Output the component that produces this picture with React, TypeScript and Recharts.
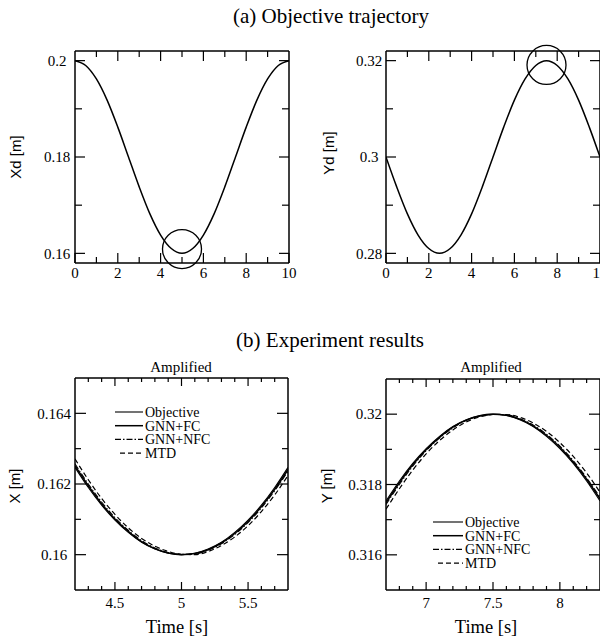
import React from 'react';
import { LineChart, Line, XAxis, YAxis, ReferenceDot } from 'recharts';

const SERIF = '"Liberation Serif", "Times New Roman", serif';
const SANS = '"Liberation Sans", Arial, sans-serif';

// ---------- (a) Objective trajectory ----------
const timeFull = [0, 0.5, 1, 1.5, 2, 2.5, 3, 3.5, 4, 4.5, 5, 5.5, 6, 6.5, 7, 7.5, 8, 8.5, 9, 9.5, 10];
const xdValues = [0.2, 0.199, 0.1962, 0.1918, 0.1862, 0.18, 0.1738, 0.1682, 0.1638, 0.161, 0.16, 0.161, 0.1638, 0.1682, 0.1738, 0.18, 0.1862, 0.1918, 0.1962, 0.199, 0.2];
const ydValues = [0.3, 0.2938, 0.2882, 0.2838, 0.281, 0.28, 0.281, 0.2838, 0.2882, 0.2938, 0.3, 0.3062, 0.3118, 0.3162, 0.319, 0.32, 0.319, 0.3162, 0.3118, 0.3062, 0.3];
const fullTimeTicks = [1, 2, 3, 4, 5, 6, 7, 8, 9];
const fullTimeAll = [0, 1, 2, 3, 4, 5, 6, 7, 8, 9, 10];
const fullTimeMajor = [0, 2, 4, 6, 8, 10];
const xdTicks = [0.16, 0.17, 0.18, 0.19, 0.2];
const xdMajor = [0.16, 0.18, 0.2];
const ydTicks = [0.28, 0.29, 0.3, 0.31, 0.32];
const ydMajor = [0.28, 0.3, 0.32];
const xdCircle = { t: 5, v: 0.1609 };
const ydCircle = { t: 7.5, v: 0.3191 };

// ---------- (b) Experiment results ----------
const timeX = [4.2, 4.3, 4.4, 4.5, 4.6, 4.7, 4.8, 4.9, 5.0, 5.1, 5.2, 5.3, 5.4, 5.5, 5.6, 5.7, 5.8];
const xObjective = [0.16247, 0.1619, 0.1614, 0.16098, 0.16063, 0.16035, 0.16016, 0.16004, 0.16, 0.16004, 0.16016, 0.16035, 0.16063, 0.16098, 0.1614, 0.1619, 0.16247];
const xGnnFc = [0.16252, 0.16195, 0.16144, 0.16101, 0.16066, 0.16037, 0.16017, 0.16005, 0.16, 0.16003, 0.16014, 0.16033, 0.1606, 0.16094, 0.16136, 0.16185, 0.16241];
const xGnnNfc = [0.16257, 0.162, 0.16149, 0.16105, 0.16069, 0.1604, 0.16019, 0.16006, 0.16001, 0.16002, 0.16013, 0.16031, 0.16057, 0.16091, 0.16132, 0.16181, 0.16236];
const xMtd = [0.16271, 0.16212, 0.16159, 0.16114, 0.16076, 0.16046, 0.16024, 0.16009, 0.16001, 0.16, 0.16009, 0.16026, 0.1605, 0.16082, 0.16122, 0.16169, 0.16224];

const timeY = [6.7, 6.8, 6.9, 7.0, 7.1, 7.2, 7.3, 7.4, 7.5, 7.6, 7.7, 7.8, 7.9, 8.0, 8.1, 8.2, 8.3];
const yObjective = [0.31753, 0.3181, 0.3186, 0.31902, 0.31937, 0.31965, 0.31984, 0.31996, 0.32, 0.31996, 0.31984, 0.31965, 0.31937, 0.31902, 0.3186, 0.3181, 0.31753];
const yGnnFc = [0.31748, 0.31805, 0.31856, 0.31899, 0.31934, 0.31963, 0.31983, 0.31995, 0.32, 0.31997, 0.31986, 0.31967, 0.3194, 0.31906, 0.31864, 0.31815, 0.31759];
const yGnnNfc = [0.31743, 0.318, 0.31852, 0.31896, 0.31932, 0.31961, 0.31982, 0.31994, 0.31999, 0.31998, 0.31987, 0.31969, 0.31943, 0.31909, 0.31868, 0.31819, 0.31764];
const yMtd = [0.3173, 0.31788, 0.31841, 0.31887, 0.31925, 0.31955, 0.31978, 0.31992, 0.31999, 0.31999, 0.31991, 0.31975, 0.31951, 0.31919, 0.3188, 0.31833, 0.31778];

const timeXTicks = [4.3, 4.4, 4.5, 4.6, 4.7, 4.8, 4.9, 5.0, 5.1, 5.2, 5.3, 5.4, 5.5, 5.6, 5.7];
const timeXMajor = [4.5, 5, 5.5];
const timeYTicks = [6.8, 6.9, 7.0, 7.1, 7.2, 7.3, 7.4, 7.5, 7.6, 7.7, 7.8, 7.9, 8.0, 8.1, 8.2];
const timeYMajor = [7, 7.5, 8];
const xAmpTicks = [0.16, 0.161, 0.162, 0.163, 0.164];
const xAmpMajor = [0.16, 0.162, 0.164];
const yAmpTicks = [0.316, 0.317, 0.318, 0.319, 0.32];
const yAmpMajor = [0.316, 0.318, 0.32];

const seriesNames = ['Objective', 'GNN+FC', 'GNN+NFC', 'MTD'];

const dataXd = timeFull.map((t, i) => ({ t, v: xdValues[i] }));
const dataYd = timeFull.map((t, i) => ({ t, v: ydValues[i] }));
const dataX = timeX.map((t, i) => ({ t, obj: xObjective[i], fc: xGnnFc[i], nfc: xGnnNfc[i], mtd: xMtd[i] }));
const dataY = timeY.map((t, i) => ({ t, obj: yObjective[i], fc: yGnnFc[i], nfc: yGnnNfc[i], mtd: yMtd[i] }));

const seriesStyle = [
  { key: 'obj', width: 1.1, dash: undefined as string | undefined },
  { key: 'fc', width: 1.5, dash: undefined as string | undefined },
  { key: 'nfc', width: 1.1, dash: '6 2 1.5 2' },
  { key: 'mtd', width: 1.2, dash: '5 3' },
];

type TickCfg = {
  side: 'bottom' | 'top' | 'left' | 'right';
  major: number[];
  majorLen: number;
  minorLen: number;
  label?: boolean;
  offset?: number;
  anchor?: 'middle' | 'end';
  fontSize?: number;
};

const isIn = (arr: number[], v: number) => arr.find((m) => Math.abs(m - v) < 1e-9);

const serifStyle = { fontFamily: SERIF } as React.CSSProperties;

function makeTick(c: TickCfg) {
  return (props: any) => {
    const { x, y, payload } = props;
    const v = payload.value;
    const m = isIn(c.major, v);
    const len = m !== undefined ? c.majorLen : c.minorLen;
    let line: any = null;
    let text: any = null;
    const fs = c.fontSize ?? 15;
    if (c.side === 'bottom') {
      line = <line x1={x} x2={x} y1={y} y2={y - len} stroke="#000" strokeWidth={1.2} />;
      if (c.label && m !== undefined)
        text = (
          <text x={x} y={y + (c.offset ?? 15)} textAnchor="middle" fontFamily={SERIF} style={serifStyle} fontSize={fs} fill="#000">
            {String(m)}
          </text>
        );
    } else if (c.side === 'top') {
      line = <line x1={x} x2={x} y1={y} y2={y + len} stroke="#000" strokeWidth={1.2} />;
    } else if (c.side === 'left') {
      line = <line x1={x} x2={x + len} y1={y} y2={y} stroke="#000" strokeWidth={1.2} />;
      if (c.label && m !== undefined)
        text = (
          <text
            x={x - (c.offset ?? 19)}
            y={y}
            dy="0.35em"
            textAnchor={c.anchor ?? 'middle'}
            fontFamily={SERIF}
            style={serifStyle}
            fontSize={fs}
            fill="#000"
          >
            {String(m)}
          </text>
        );
    } else {
      line = <line x1={x} x2={x - len} y1={y} y2={y} stroke="#000" strokeWidth={1.2} />;
    }
    return (
      <g>
        {line}
        {text}
      </g>
    );
  };
}

const axisStyle = { stroke: '#000', strokeWidth: 1.5 };

type PanelProps = {
  left: number;
  top: number;
  width: number;
  height: number;
  data: any[];
  xDomain: [number, number];
  yDomain: [number, number];
  xTicks: number[];
  xTicksTop: number[];
  xMajor: number[];
  yTicks: number[];
  yMajor: number[];
  xLen: [number, number];
  yLen: [number, number];
  xOffset: number;
  yOffset: number;
  yAnchor: 'middle' | 'end';
  keys: { key: string; width: number; dash?: string }[];
  circle?: { t: number; v: number };
};

function Panel(p: PanelProps) {
  const ML = 60,
    MR = 20,
    MT = 20,
    MB = 40;
  return (
    <div style={{ position: 'absolute', left: p.left - ML, top: p.top - MT, fontFamily: SERIF }}>
      <LineChart
        width={p.width + ML + MR}
        height={p.height + MT + MB}
        data={p.data}
        margin={{ top: 0, right: 0, bottom: 0, left: 0 }}
        style={{ overflow: 'visible', fontFamily: SERIF }}
      >
        <XAxis
          xAxisId="b"
          dataKey="t"
          type="number"
          domain={p.xDomain}
          allowDataOverflow
          ticks={p.xTicks}
          interval={0}
          height={MB}
          orientation="bottom"
          tickSize={0}
          tickMargin={0}
          tickLine={false}
          axisLine={axisStyle}
          tick={makeTick({ side: 'bottom', major: p.xMajor, majorLen: p.xLen[0], minorLen: p.xLen[1], label: true, offset: p.xOffset })}
        />
        <XAxis
          xAxisId="t"
          dataKey="t"
          type="number"
          domain={p.xDomain}
          allowDataOverflow
          ticks={p.xTicksTop}
          interval={0}
          height={MT}
          orientation="top"
          tickSize={0}
          tickMargin={0}
          tickLine={false}
          axisLine={axisStyle}
          tick={makeTick({ side: 'top', major: p.xMajor, majorLen: p.xLen[0], minorLen: p.xLen[1] })}
        />
        <YAxis
          yAxisId="l"
          type="number"
          domain={p.yDomain}
          allowDataOverflow
          ticks={p.yTicks}
          interval={0}
          width={ML}
          orientation="left"
          tickSize={0}
          tickMargin={0}
          tickLine={false}
          axisLine={axisStyle}
          tick={makeTick({ side: 'left', major: p.yMajor, majorLen: p.yLen[0], minorLen: p.yLen[1], label: true, offset: p.yOffset, anchor: p.yAnchor })}
        />
        <YAxis
          yAxisId="r"
          type="number"
          domain={p.yDomain}
          allowDataOverflow
          ticks={p.yTicks}
          interval={0}
          width={MR}
          orientation="right"
          tickSize={0}
          tickMargin={0}
          tickLine={false}
          axisLine={axisStyle}
          tick={makeTick({ side: 'right', major: p.yMajor, majorLen: p.yLen[0], minorLen: p.yLen[1] })}
        />
        {p.keys.map((k) => (
          <Line
            key={k.key}
            xAxisId="b"
            yAxisId="l"
            type="monotone"
            dataKey={k.key}
            stroke="#000"
            strokeWidth={k.width}
            strokeDasharray={k.dash}
            dot={false}
            activeDot={false}
            isAnimationActive={false}
          />
        ))}
        {p.circle && (
          <ReferenceDot
            xAxisId="b"
            yAxisId="l"
            x={p.circle.t}
            y={p.circle.v}
            r={19.5}
            fill="none"
            stroke="#000"
            strokeWidth={1.3}
            ifOverflow="visible"
          />
        )}
      </LineChart>
    </div>
  );
}

function LegendBox({ left, top, lineLen }: { left: number; top: number; lineLen: number }) {
  const rowH = 13.7;
  return (
    <svg style={{ position: 'absolute', left, top }} width={120} height={60}>
      {seriesNames.map((n, i) => {
        const s = seriesStyle[i];
        const y = 7 + i * rowH;
        return (
          <g key={n}>
            <line x1={i === 3 ? 5 : 0} x2={lineLen} y1={y} y2={y} stroke="#000" strokeWidth={s.width} strokeDasharray={s.dash} />
            <text x={lineLen + 2} y={y} dy="0.35em" style={serifStyle} fontSize={14} fill="#000">
              {n}
            </text>
          </g>
        );
      })}
    </svg>
  );
}

function Txt({ x, y, children, size, font, rotate }: { x: number; y: number; children: any; size: number; font: string; rotate?: boolean }) {
  return (
    <div
      style={{
        position: 'absolute',
        left: x,
        top: y,
        transform: `translate(-50%, -50%)${rotate ? ' rotate(-90deg)' : ''}`,
        fontFamily: font,
        fontSize: size,
        lineHeight: 1,
        whiteSpace: 'nowrap',
        color: '#000',
      }}
    >
      {children}
    </div>
  );
}

export default function App() {
  return (
    <div style={{ position: 'absolute', left: 0, top: 0, width: 600, height: 643, overflow: 'hidden', background: '#fff' }}>
      <Txt x={331} y={16} size={21} font={SERIF}>(a) Objective trajectory</Txt>
      <Txt x={330} y={340} size={21} font={SERIF}>(b) Experiment results</Txt>

      <Panel
        left={75}
        top={51}
        width={214}
        height={212}
        data={dataXd}
        xDomain={[0, 10]}
        yDomain={[0.158, 0.202]}
        xTicks={fullTimeAll}
        xTicksTop={fullTimeTicks}
        xMajor={fullTimeMajor}
        yTicks={xdTicks}
        yMajor={xdMajor}
        xLen={[10, 6]}
        yLen={[10, 7]}
        xOffset={15}
        yOffset={18}
        yAnchor="middle"
        keys={[{ key: 'v', width: 1.5 }]}
        circle={xdCircle}
      />
      <Panel
        left={386}
        top={51}
        width={214}
        height={212}
        data={dataYd}
        xDomain={[0, 10]}
        yDomain={[0.278, 0.322]}
        xTicks={fullTimeAll}
        xTicksTop={fullTimeTicks}
        xMajor={fullTimeMajor}
        yTicks={ydTicks}
        yMajor={ydMajor}
        xLen={[10, 6]}
        yLen={[10, 7]}
        xOffset={15}
        yOffset={17}
        yAnchor="middle"
        keys={[{ key: 'v', width: 1.5 }]}
        circle={ydCircle}
      />
      <Panel
        left={75}
        top={378}
        width={213}
        height={212}
        data={dataX}
        xDomain={[4.2, 5.8]}
        yDomain={[0.159, 0.165]}
        xTicks={timeXTicks}
        xTicksTop={timeXTicks}
        xMajor={timeXMajor}
        yTicks={xAmpTicks}
        yMajor={xAmpMajor}
        xLen={[8, 4]}
        yLen={[11, 6]}
        xOffset={18}
        yOffset={21}
        yAnchor="middle"
        keys={seriesStyle}
      />
      <Panel
        left={386}
        top={379}
        width={214}
        height={211}
        data={dataY}
        xDomain={[6.7, 8.3]}
        yDomain={[0.315, 0.321]}
        xTicks={timeYTicks}
        xTicksTop={timeYTicks}
        xMajor={timeYMajor}
        yTicks={yAmpTicks}
        yMajor={yAmpMajor}
        xLen={[8, 4]}
        yLen={[11, 6]}
        xOffset={18}
        yOffset={4}
        yAnchor="end"
        keys={seriesStyle}
      />

      <Txt x={15} y={157} size={15} font={SANS} rotate>Xd [m]</Txt>
      <Txt x={328} y={153} size={15} font={SANS} rotate>Yd [m]</Txt>
      <Txt x={14} y={486} size={15} font={SANS} rotate>X [m]</Txt>
      <Txt x={326} y={486} size={15} font={SANS} rotate>Y [m]</Txt>

      <Txt x={181} y={367} size={15} font={SERIF}>Amplified</Txt>
      <Txt x={491} y={367} size={15} font={SERIF}>Amplified</Txt>
      <Txt x={177} y={627} size={18.5} font={SERIF}>Time [s]</Txt>
      <Txt x={486} y={627} size={18.5} font={SERIF}>Time [s]</Txt>

      <LegendBox left={115} top={405} lineLen={28} />
      <LegendBox left={433} top={515} lineLen={30} />
    </div>
  );
}
